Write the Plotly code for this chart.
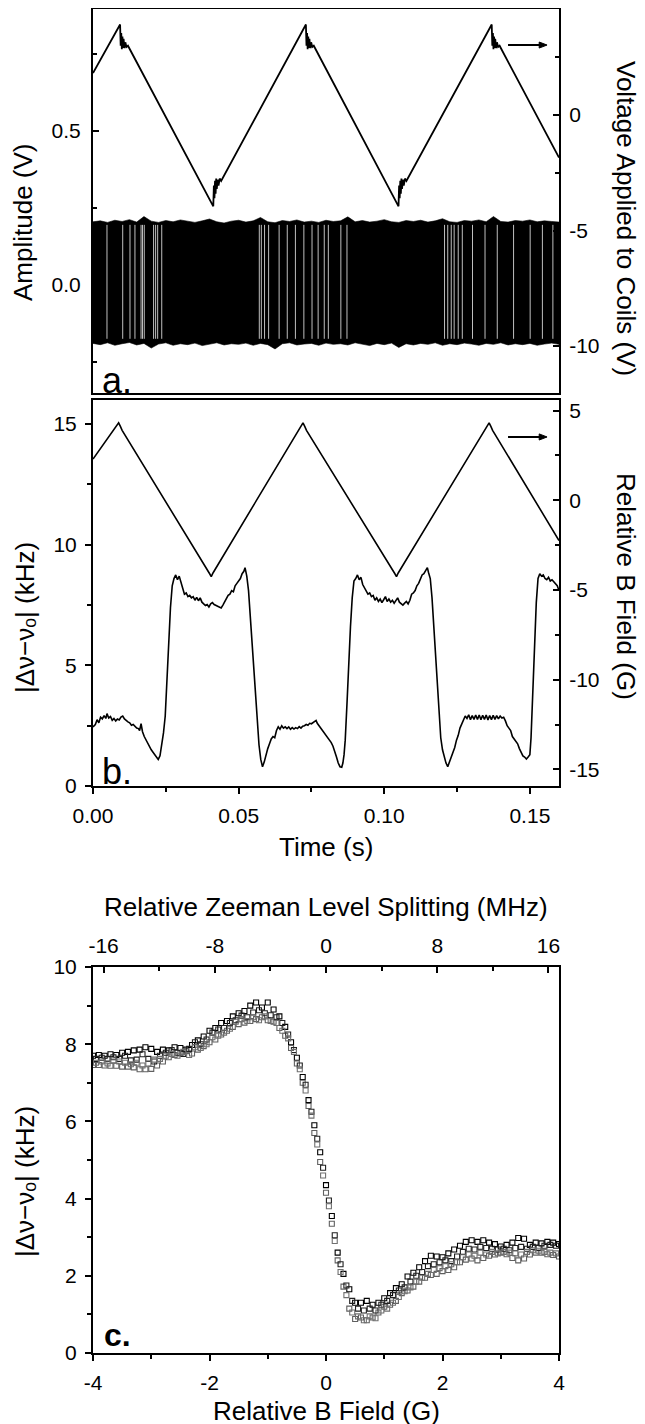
import plotly.graph_objects as go

W, H = 645, 1424
FONT = "Liberation Sans, Arial, Helvetica, sans-serif"
PAGE_OFFSET = 8  # the page body margin shifts the figure by this many pixels

# ---------------- data ----------------
# Panel a: beat-note amplitude (V) drawn as its envelope, plus lighter gaps seen in the trace
sig_t = [0.0000, 0.0025, 0.0050, 0.0075, 0.0100, 0.0125, 0.0150, 0.0175, 0.0200, 0.0225,
         0.0250, 0.0275, 0.0300, 0.0325, 0.0350, 0.0375, 0.0400, 0.0425, 0.0450, 0.0475,
         0.0500, 0.0525, 0.0550, 0.0575, 0.0600, 0.0625, 0.0650, 0.0675, 0.0700, 0.0725,
         0.0750, 0.0775, 0.0800, 0.0825, 0.0850, 0.0875, 0.0900, 0.0925, 0.0950, 0.0975,
         0.1000, 0.1025, 0.1050, 0.1075, 0.1100, 0.1125, 0.1150, 0.1175, 0.1200, 0.1225,
         0.1250, 0.1275, 0.1300, 0.1325, 0.1350, 0.1375, 0.1400, 0.1425, 0.1450, 0.1475,
         0.1500, 0.1525, 0.1550, 0.1575, 0.1600]
sig_hi = [0.205, 0.208, 0.203, 0.210, 0.206, 0.212, 0.204, 0.222, 0.207, 0.203,
          0.209, 0.205, 0.211, 0.206, 0.203, 0.208, 0.214, 0.205, 0.201, 0.207,
          0.210, 0.204, 0.208, 0.219, 0.205, 0.202, 0.209, 0.206, 0.211, 0.204,
          0.207, 0.203, 0.210, 0.206, 0.208, 0.221, 0.205, 0.209, 0.204, 0.207,
          0.212, 0.205, 0.203, 0.209, 0.206, 0.210, 0.204, 0.208, 0.215, 0.205,
          0.203, 0.209, 0.207, 0.211, 0.205, 0.222, 0.206, 0.204, 0.209, 0.207,
          0.211, 0.205, 0.208, 0.206, 0.204]
sig_lo = [-0.190, -0.194, -0.188, -0.196, -0.191, -0.187, -0.195, -0.190, -0.205, -0.192,
          -0.188, -0.196, -0.191, -0.194, -0.189, -0.197, -0.192, -0.188, -0.195, -0.191,
          -0.193, -0.189, -0.196, -0.190, -0.194, -0.208, -0.191, -0.188, -0.195, -0.192,
          -0.190, -0.196, -0.189, -0.193, -0.191, -0.195, -0.188, -0.192, -0.197, -0.190,
          -0.194, -0.189, -0.203, -0.191, -0.195, -0.190, -0.193, -0.188, -0.196, -0.191,
          -0.194, -0.189, -0.192, -0.196, -0.190, -0.193, -0.188, -0.195, -0.191, -0.194,
          -0.190, -0.196, -0.192, -0.189, -0.193]
gap_t = [0.0048, 0.0102, 0.0127, 0.0144, 0.0165, 0.0170, 0.0176, 0.0208, 0.0215, 0.0222, 0.0236,
         0.0571, 0.0578, 0.0589, 0.0603, 0.0639, 0.0667, 0.0695, 0.0724, 0.0752, 0.0773, 0.0794,
         0.0808, 0.0851, 0.0872, 0.1207, 0.1218, 0.1230, 0.1240, 0.1254, 0.1268, 0.1303, 0.1346,
         0.1388, 0.1444, 0.1501, 0.1543, 0.1579]
gap_lo, gap_hi = -0.175, 0.195

# Panel a: voltage applied to the coils (V)
coil_t = [0.0, 0.0093, 0.0095, 0.0097, 0.0099, 0.0101, 0.0103, 0.0105, 0.0108, 0.0111, 0.0115, 0.0120,
          0.0413, 0.0415, 0.0417, 0.0419, 0.0421, 0.0423, 0.0425, 0.0428, 0.0431, 0.0435, 0.0440,
          0.0731, 0.0733, 0.0735, 0.0737, 0.0739, 0.0741, 0.0743, 0.0746, 0.0749, 0.0753, 0.0758,
          0.1049, 0.1051, 0.1053, 0.1055, 0.1057, 0.1059, 0.1061, 0.1064, 0.1067, 0.1071, 0.1076,
          0.1369, 0.1371, 0.1373, 0.1375, 0.1377, 0.1379, 0.1381, 0.1384, 0.1387, 0.1391, 0.1396,
          0.1600]
coil_v = [1.82, 3.92, 3.00, 3.55, 2.85, 3.40, 2.90, 3.30, 2.90, 3.15, 2.95, 3.00,
          -3.95, -3.05, -3.60, -2.85, -3.40, -2.75, -3.20, -2.80, -3.05, -2.75, -2.85,
          3.92, 3.00, 3.55, 2.85, 3.40, 2.90, 3.30, 2.90, 3.15, 2.95, 3.00,
          -3.95, -3.05, -3.60, -2.85, -3.40, -2.75, -3.20, -2.80, -3.05, -2.75, -2.85,
          3.92, 3.00, 3.55, 2.85, 3.40, 2.90, 3.30, 2.90, 3.15, 2.95, 3.00,
          -1.84]

# Panel b: |dnu - nu_o| (kHz) vs time (s)
beat_t = [0.0000, 0.0008, 0.0014, 0.0020, 0.0026, 0.0032, 0.0038, 0.0044, 0.0048, 0.0054, 0.0060,
          0.0066, 0.0072, 0.0078, 0.0084, 0.0090, 0.0096, 0.0102, 0.0108, 0.0114, 0.0120, 0.0126,
          0.0132, 0.0138, 0.0144, 0.0150, 0.0156, 0.0160, 0.0165, 0.0170, 0.0176, 0.0182, 0.0188,
          0.0194, 0.0200, 0.0206, 0.0212, 0.0218, 0.0224, 0.0230, 0.0236, 0.0242, 0.0248, 0.0254,
          0.0260, 0.0266, 0.0272, 0.0278, 0.0284, 0.0290, 0.0296, 0.0302, 0.0308, 0.0314, 0.0320,
          0.0326, 0.0332, 0.0338, 0.0344, 0.0350, 0.0356, 0.0362, 0.0368, 0.0374, 0.0380, 0.0386,
          0.0392, 0.0398, 0.0404, 0.0410, 0.0416, 0.0422, 0.0428, 0.0434, 0.0440, 0.0446, 0.0452,
          0.0458, 0.0464, 0.0470, 0.0476, 0.0482, 0.0488, 0.0494, 0.0500, 0.0506, 0.0512, 0.0518,
          0.0522, 0.0528, 0.0534, 0.0540, 0.0546, 0.0552, 0.0558, 0.0564, 0.0570, 0.0576, 0.0582,
          0.0588, 0.0594, 0.0600, 0.0606, 0.0612, 0.0618, 0.0624, 0.0630, 0.0636, 0.0642, 0.0648,
          0.0654, 0.0660, 0.0666, 0.0672, 0.0678, 0.0684, 0.0690, 0.0696, 0.0702, 0.0708, 0.0714,
          0.0720, 0.0726, 0.0732, 0.0738, 0.0744, 0.0750, 0.0756, 0.0762, 0.0766, 0.0770, 0.0776,
          0.0782, 0.0788, 0.0794, 0.0800, 0.0806, 0.0812, 0.0818, 0.0824, 0.0830, 0.0836, 0.0842,
          0.0848, 0.0854, 0.0858, 0.0862, 0.0866, 0.0872, 0.0878, 0.0884, 0.0890, 0.0896, 0.0902,
          0.0908, 0.0914, 0.0920, 0.0926, 0.0932, 0.0938, 0.0944, 0.0950, 0.0956, 0.0962, 0.0968,
          0.0974, 0.0980, 0.0986, 0.0992, 0.0998, 0.1004, 0.1010, 0.1016, 0.1022, 0.1028, 0.1034,
          0.1040, 0.1046, 0.1052, 0.1058, 0.1064, 0.1070, 0.1076, 0.1082, 0.1088, 0.1094, 0.1100,
          0.1106, 0.1112, 0.1118, 0.1124, 0.1130, 0.1136, 0.1142, 0.1148, 0.1152, 0.1158, 0.1164,
          0.1170, 0.1176, 0.1182, 0.1188, 0.1194, 0.1200, 0.1206, 0.1212, 0.1218, 0.1224, 0.1230,
          0.1236, 0.1242, 0.1248, 0.1254, 0.1260, 0.1266, 0.1272, 0.1278, 0.1284, 0.1290, 0.1296,
          0.1302, 0.1308, 0.1314, 0.1320, 0.1326, 0.1332, 0.1338, 0.1344, 0.1350, 0.1356, 0.1362,
          0.1368, 0.1374, 0.1380, 0.1386, 0.1392, 0.1398, 0.1404, 0.1410, 0.1416, 0.1422, 0.1428,
          0.1434, 0.1440, 0.1446, 0.1452, 0.1458, 0.1464, 0.1470, 0.1476, 0.1482, 0.1488, 0.1494,
          0.1500, 0.1504, 0.1510, 0.1516, 0.1522, 0.1528, 0.1534, 0.1540, 0.1546, 0.1552, 0.1558,
          0.1564, 0.1570, 0.1576, 0.1582, 0.1588, 0.1594, 0.1600]
beat_khz = [2.45, 2.55, 2.75, 2.62, 2.85, 2.78, 2.92, 2.80, 3.00, 2.82, 2.88,
            2.72, 2.80, 2.70, 2.78, 2.74, 2.86, 2.90, 2.78, 2.70, 2.66, 2.62,
            2.52, 2.55, 2.45, 2.40, 2.38, 2.30, 2.58, 2.25, 2.05, 1.90, 1.80,
            1.62, 1.50, 1.40, 1.30, 1.18, 1.10, 1.25, 1.70, 2.20, 2.90, 4.40,
            6.10, 7.40, 8.30, 8.60, 8.75, 8.55, 8.70, 8.40, 8.20, 7.95, 8.00,
            7.85, 7.90, 7.80, 7.85, 7.70, 7.82, 7.68, 7.80, 7.62, 7.55, 7.48,
            7.52, 7.42, 7.55, 7.60, 7.52, 7.48, 7.45, 7.40, 7.38, 7.50, 7.65,
            7.75, 7.90, 7.95, 8.10, 8.05, 8.30, 8.40, 8.50, 8.60, 8.80, 8.90,
            9.05, 8.70, 8.10, 7.00, 5.80, 4.60, 3.50, 2.50, 1.70, 1.10, 0.80,
            1.00, 1.30, 1.55, 1.75, 1.95, 2.05, 2.00, 2.30, 2.45, 2.35, 2.50,
            2.40, 2.45, 2.38, 2.45, 2.35, 2.42, 2.36, 2.42, 2.38, 2.46, 2.40,
            2.48, 2.50, 2.55, 2.52, 2.60, 2.58, 2.62, 2.68, 2.72, 2.60, 2.50,
            2.45, 2.32, 2.25, 2.15, 2.05, 1.90, 1.80, 1.65, 1.45, 1.20, 0.95,
            0.80, 0.78, 0.95, 1.30, 1.90, 3.40, 5.20, 6.60, 7.80, 8.50, 8.60,
            8.75, 8.55, 8.65, 8.35, 8.20, 8.10, 7.95, 8.00, 7.85, 7.90, 7.70,
            7.80, 7.65, 7.75, 7.60, 7.72, 7.85, 7.65, 7.75, 7.62, 7.70, 7.58,
            7.72, 7.80, 7.62, 7.55, 7.50, 7.58, 7.65, 7.55, 7.70, 7.95, 8.00,
            8.10, 8.30, 8.40, 8.60, 8.75, 8.80, 8.90, 9.05, 8.85, 8.60, 7.80,
            6.60, 5.20, 3.90, 2.80, 2.00, 1.50, 1.20, 0.95, 0.80, 1.00, 1.25,
            1.45, 1.60, 1.90, 2.10, 2.40, 2.55, 2.75, 2.90, 2.80, 2.95, 2.75,
            2.92, 2.76, 2.94, 2.76, 2.94, 2.75, 2.93, 2.76, 2.94, 2.74, 2.92,
            2.75, 2.93, 2.76, 2.92, 2.78, 2.90, 2.82, 2.85, 2.70, 2.50, 2.40,
            2.30, 2.05, 1.95, 1.80, 1.75, 1.55, 1.40, 1.25, 1.20, 1.12, 1.20,
            1.30, 2.00, 3.80, 6.00, 7.60, 8.60, 8.80, 8.70, 8.75, 8.60, 8.55,
            8.65, 8.50, 8.55, 8.45, 8.40, 8.30, 8.10]

# Panel b: relative B field (G) vs time (s)
field_t = [0.0, 0.0082, 0.0088, 0.0094, 0.0100, 0.0400, 0.0406, 0.0412,
           0.0715, 0.0721, 0.0727, 0.0733, 0.1036, 0.1042, 0.1048,
           0.1354, 0.1360, 0.1366, 0.1372, 0.1600]
field_g = [2.30, 4.12, 4.32, 4.12, 3.90, -4.08, -4.25, -4.05,
           4.12, 4.32, 4.12, 3.90, -4.08, -4.25, -4.05,
           4.12, 4.32, 4.12, 3.90, -2.24]

# Panel c: |dnu - nu_o| (kHz) vs relative B field (G), four sweeps
b_grid_a = [-4.0, -3.9, -3.8, -3.7, -3.6, -3.5, -3.4, -3.3, -3.2, -3.1, -3.0, -2.9, -2.8, -2.7,
            -2.6, -2.5, -2.4, -2.3, -2.2, -2.1, -2.0, -1.9, -1.8, -1.7, -1.6, -1.5, -1.4, -1.3,
            -1.2, -1.1, -1.0, -0.9, -0.8, -0.7, -0.6, -0.5, -0.4, -0.3, -0.2, -0.1, 0.0, 0.1,
            0.2, 0.3, 0.4, 0.5, 0.6, 0.7, 0.8, 0.9, 1.0, 1.1, 1.2, 1.3, 1.4, 1.5, 1.6, 1.7,
            1.8, 1.9, 2.0, 2.1, 2.2, 2.3, 2.4, 2.5, 2.6, 2.7, 2.8, 2.9, 3.0, 3.1, 3.2, 3.3,
            3.4, 3.5, 3.6, 3.7, 3.8, 3.9, 4.0]
b_grid_b = [-3.95, -3.85, -3.75, -3.65, -3.55, -3.45, -3.35, -3.25, -3.15, -3.05, -2.95, -2.85,
            -2.75, -2.65, -2.55, -2.45, -2.35, -2.25, -2.15, -2.05, -1.95, -1.85, -1.75, -1.65,
            -1.55, -1.45, -1.35, -1.25, -1.15, -1.05, -0.95, -0.85, -0.75, -0.65, -0.55, -0.45,
            -0.35, -0.25, -0.15, -0.05, 0.05, 0.15, 0.25, 0.35, 0.45, 0.55, 0.65, 0.75, 0.85,
            0.95, 1.05, 1.15, 1.25, 1.35, 1.45, 1.55, 1.65, 1.75, 1.85, 1.95, 2.05, 2.15, 2.25,
            2.35, 2.45, 2.55, 2.65, 2.75, 2.85, 2.95, 3.05, 3.15, 3.25, 3.35, 3.45, 3.55, 3.65,
            3.75, 3.85, 3.95]
sweep1 = [7.70, 7.72, 7.70, 7.74, 7.72, 7.78, 7.80, 7.84, 7.86, 7.92, 7.88, 7.80, 7.86, 7.84,
          7.92, 7.90, 7.86, 7.98, 8.10, 8.20, 8.35, 8.42, 8.55, 8.60, 8.72, 8.80, 8.86, 9.00,
          9.08, 8.95, 9.08, 8.90, 8.72, 8.45, 8.05, 7.65, 7.15, 6.55, 5.90, 5.20, 4.35, 3.55,
          2.60, 2.05, 1.65, 1.30, 1.30, 1.35, 1.25, 1.30, 1.42, 1.55, 1.68, 1.78, 1.98, 2.08,
          2.22, 2.38, 2.52, 2.50, 2.48, 2.58, 2.68, 2.78, 2.88, 2.92, 2.88, 2.92, 2.86, 2.82,
          2.76, 2.80, 2.86, 2.98, 2.96, 2.80, 2.86, 2.84, 2.88, 2.86, 2.82]
sweep2 = [7.46, 7.46, 7.45, 7.44, 7.44, 7.42, 7.42, 7.40, 7.35, 7.35, 7.36, 7.45, 7.55, 7.66,
          7.72, 7.76, 7.82, 7.76, 7.86, 7.95, 8.05, 8.12, 8.25, 8.35, 8.45, 8.52, 8.56, 8.60,
          8.65, 8.70, 8.62, 8.58, 8.42, 8.22, 7.90, 7.50, 7.00, 6.40, 5.70, 4.95, 4.15, 3.35,
          2.40, 1.72, 1.15, 0.88, 0.92, 0.85, 0.92, 1.05, 1.20, 1.25, 1.35, 1.55, 1.62, 1.72,
          1.85, 1.95, 2.02, 2.05, 2.12, 2.15, 2.22, 2.35, 2.42, 2.45, 2.40, 2.46, 2.52, 2.55,
          2.60, 2.56, 2.46, 2.40, 2.45, 2.55, 2.60, 2.60, 2.56, 2.54, 2.50]
sweep3 = [7.62, 7.65, 7.62, 7.66, 7.62, 7.70, 7.58, 7.60, 7.74, 7.62, 7.55, 7.70, 7.78, 7.85,
          7.78, 7.75, 7.88, 8.05, 8.00, 8.12, 8.30, 8.38, 8.42, 8.55, 8.62, 8.74, 8.70, 8.82,
          8.88, 8.80, 8.75, 8.70, 8.55, 8.25, 7.85, 7.45, 6.95, 6.25, 5.55, 4.80, 3.95, 3.05,
          2.30, 1.75, 1.35, 1.15, 1.10, 1.15, 1.10, 1.25, 1.35, 1.50, 1.62, 1.70, 1.85, 2.00,
          2.10, 2.25, 2.30, 2.35, 2.40, 2.38, 2.50, 2.62, 2.70, 2.68, 2.75, 2.72, 2.70, 2.68,
          2.70, 2.66, 2.72, 2.75, 2.70, 2.75, 2.72, 2.78, 2.80, 2.78]
sweep4 = [7.52, 7.55, 7.50, 7.58, 7.55, 7.52, 7.48, 7.52, 7.45, 7.50, 7.60, 7.62, 7.70, 7.75,
          7.70, 7.80, 7.72, 7.92, 7.90, 8.00, 8.18, 8.22, 8.30, 8.40, 8.58, 8.65, 8.60, 8.70,
          8.62, 8.72, 8.60, 8.55, 8.35, 8.15, 7.80, 7.35, 6.80, 6.15, 5.40, 4.60, 3.80, 2.90,
          2.10, 1.50, 1.05, 0.95, 0.85, 0.95, 0.90, 1.10, 1.15, 1.30, 1.45, 1.60, 1.70, 1.85,
          1.95, 2.05, 2.15, 2.20, 2.25, 2.30, 2.35, 2.48, 2.55, 2.52, 2.60, 2.55, 2.62, 2.58,
          2.62, 2.60, 2.58, 2.55, 2.62, 2.66, 2.65, 2.62, 2.60, 2.58]

# Tick labels
a_left_vals, a_left_text = [0.0, 0.5], ["0.0", "0.5"]
a_right_vals, a_right_text = [-10, -5, 0], ["-10", "-5", "0"]
b_x_vals, b_x_text = [0.0, 0.05, 0.10, 0.15], ["0.00", "0.05", "0.10", "0.15"]
b_left_vals, b_left_text = [0, 5, 10, 15], ["0", "5", "10", "15"]
b_right_vals, b_right_text = [-15, -10, -5, 0, 5], ["-15", "-10", "-5", "0", "5"]
c_x_vals, c_x_text = [-4, -2, 0, 2, 4], ["-4", "-2", "0", "2", "4"]
c_top_vals, c_top_text = [-16, -8, 0, 8, 16], ["-16", "-8", "0", "8", "16"]
c_y_vals, c_y_text = [0, 2, 4, 6, 8, 10], ["0", "2", "4", "6", "8", "10"]

# ---------------- layout helpers ----------------
def px_x(p):
    return (p - PAGE_OFFSET) / W


def px_y(p):
    return 1 - (p - PAGE_OFFSET) / H


XDOM = [px_x(93), px_x(559)]
A_DOM = [px_y(393), px_y(9)]
B_DOM = [px_y(786), px_y(400)]
C_DOM = [px_y(1353), px_y(967)]

TICKFONT = dict(family=FONT, size=21, color="black")


def axis(**kw):
    base = dict(showline=True, linecolor="black", linewidth=2, mirror=True, automargin=False,
                showgrid=False, zeroline=False, tickfont=TICKFONT,
                tickcolor="black", tickwidth=1.5, ticklen=6)
    base.update(kw)
    return base


def minor(direction, step):
    return dict(dtick=step, tick0=0, ticks=direction, ticklen=4, tickcolor="black", tickwidth=1.5)


fig = go.Figure()

# panel a
band_x = sig_t + sig_t[::-1]
band_y = sig_hi + sig_lo[::-1]
fig.add_trace(go.Scatter(x=band_x, y=band_y, fill="toself", fillcolor="black",
                         line=dict(color="black", width=0.6), mode="lines",
                         xaxis="x", yaxis="y", hoverinfo="skip", showlegend=False))
gx, gy = [], []
for t in gap_t:
    gx += [t, t, None]
    gy += [gap_lo, gap_hi, None]
fig.add_trace(go.Scatter(x=gx, y=gy, mode="lines", line=dict(color="rgba(255,255,255,0.75)", width=1),
                         xaxis="x", yaxis="y", hoverinfo="skip", showlegend=False))
fig.add_trace(go.Scatter(x=coil_t, y=coil_v, mode="lines", line=dict(color="black", width=1.8),
                         xaxis="x", yaxis="y2", showlegend=False))

# panel b
fig.add_trace(go.Scatter(x=beat_t, y=beat_khz, mode="lines", line=dict(color="black", width=1.6),
                         xaxis="x2", yaxis="y3", showlegend=False))
fig.add_trace(go.Scatter(x=field_t, y=field_g, mode="lines", line=dict(color="black", width=1.6),
                         xaxis="x2", yaxis="y4", showlegend=False))

# panel c
for xs, ys, col in [(b_grid_a, sweep1, "black"), (b_grid_a, sweep2, "#606060"),
                    (b_grid_b, sweep3, "#202020"), (b_grid_b, sweep4, "#707070")]:
    fig.add_trace(go.Scatter(x=xs, y=ys, mode="markers",
                             marker=dict(symbol="square-open", size=5, color=col, line=dict(width=1.1)),
                             xaxis="x3", yaxis="y5", showlegend=False))
fig.add_trace(go.Scatter(x=[c_top_vals[0], c_top_vals[-1]], y=[None, None], mode="markers",
                         xaxis="x4", yaxis="y5", showlegend=False, hoverinfo="skip"))

fig.update_layout(
    width=W, height=H, margin=dict(l=0, r=0, t=0, b=0, autoexpand=False),
    paper_bgcolor="white", plot_bgcolor="white", showlegend=False,
    font=dict(family=FONT, color="black"),
    # panel a
    xaxis=axis(domain=XDOM, anchor="y", range=[0, 0.16], showticklabels=False, ticks=""),
    yaxis=axis(domain=A_DOM, anchor="x", range=[-0.351, 0.896], ticks="inside",
               tickmode="array", tickvals=a_left_vals, ticktext=a_left_text, ticklabelstandoff=6,
               minor=minor("inside", 0.25)),
    yaxis2=axis(anchor="x", overlaying="y", side="right", range=[-12.03, 4.59], ticks="inside",
                mirror=False, tickmode="array", tickvals=a_right_vals, ticktext=a_right_text,
                ticklabelstandoff=4, minor=minor("inside", 2.5)),
    # panel b
    xaxis2=axis(domain=XDOM, anchor="y3", range=[0, 0.16], ticks="outside",
                tickmode="array", tickvals=b_x_vals, ticktext=b_x_text, ticklabelstandoff=4,
                minor=minor("outside", 0.025)),
    yaxis3=axis(domain=B_DOM, anchor="x2", range=[0, 16], ticks="outside",
                tickmode="array", tickvals=b_left_vals, ticktext=b_left_text, ticklabelstandoff=4,
                minor=minor("outside", 2.5)),
    yaxis4=axis(anchor="x2", overlaying="y3", side="right", range=[-15.92, 5.59], ticks="inside",
                mirror=False, tickmode="array", tickvals=b_right_vals, ticktext=b_right_text,
                ticklabelstandoff=4, minor=minor("inside", 2.5)),
    # panel c
    xaxis3=axis(domain=XDOM, anchor="y5", range=[-4, 4], ticks="outside",
                tickmode="array", tickvals=c_x_vals, ticktext=c_x_text, ticklabelstandoff=4,
                minor=minor("outside", 1)),
    xaxis4=axis(anchor="y5", overlaying="x3", side="top", range=[-16.76, 16.76], ticks="inside",
                mirror=False, tickmode="array", tickvals=c_top_vals, ticktext=c_top_text,
                ticklabelstandoff=4, minor=minor("inside", 4)),
    yaxis5=axis(domain=C_DOM, anchor="x3", range=[0, 10], ticks="outside",
                tickmode="array", tickvals=c_y_vals, ticktext=c_y_text, ticklabelstandoff=4,
                minor=minor("outside", 1)),
)

ylabel_kHz = "|\u0394\u03bd\u2212\u03bd\u2092| (kHz)"
ann = []


def title(text, x, y, angle=0, size=26, **kw):
    d = dict(text=text, x=px_x(x), y=px_y(y), xref="paper", yref="paper", showarrow=False,
             textangle=angle, font=dict(family=FONT, size=size, color="black"),
             xanchor="center", yanchor="middle")
    d.update(kw)
    ann.append(d)


title("Amplitude (V)", 23, 222, angle=-90)
title("Voltage Applied to Coils (V)", 626, 218, angle=90)
title(ylabel_kHz, 25, 618, angle=-90)
title("Relative B Field (G)", 626, 586, angle=90)
title("Time (s)", 326, 847)
title("Relative Zeeman Level Splitting (MHz)", 326, 907)
title(ylabel_kHz, 25, 1182, angle=-90)
title("Relative B Field (G)", 326, 1411)
title("a.", 100, 380, size=36, xanchor="left")
title("b.", 100, 771, size=36, xanchor="left")
title("<b>c.</b>", 102, 1335, size=32, xanchor="left")
fig.update_layout(annotations=ann)

# arrows pointing to the right-hand axes (line + head drawn as shapes)
arrow_specs = [("x", "y2", 3.03, 0.13), ("x2", "y4", 3.53, 0.17)]
shapes = []
for xr, yr, yv, hh in arrow_specs:
    shapes.append(dict(type="line", xref=xr, yref=yr, x0=0.1425, x1=0.1535, y0=yv, y1=yv,
                       line=dict(color="black", width=2)))
    shapes.append(dict(type="path", xref=xr, yref=yr,
                       path=f"M 0.1532 {yv - hh} L 0.1559 {yv} L 0.1532 {yv + hh} Z",
                       fillcolor="black", line=dict(color="black", width=1)))
fig.update_layout(shapes=shapes)

fig.write_html("out.html")
